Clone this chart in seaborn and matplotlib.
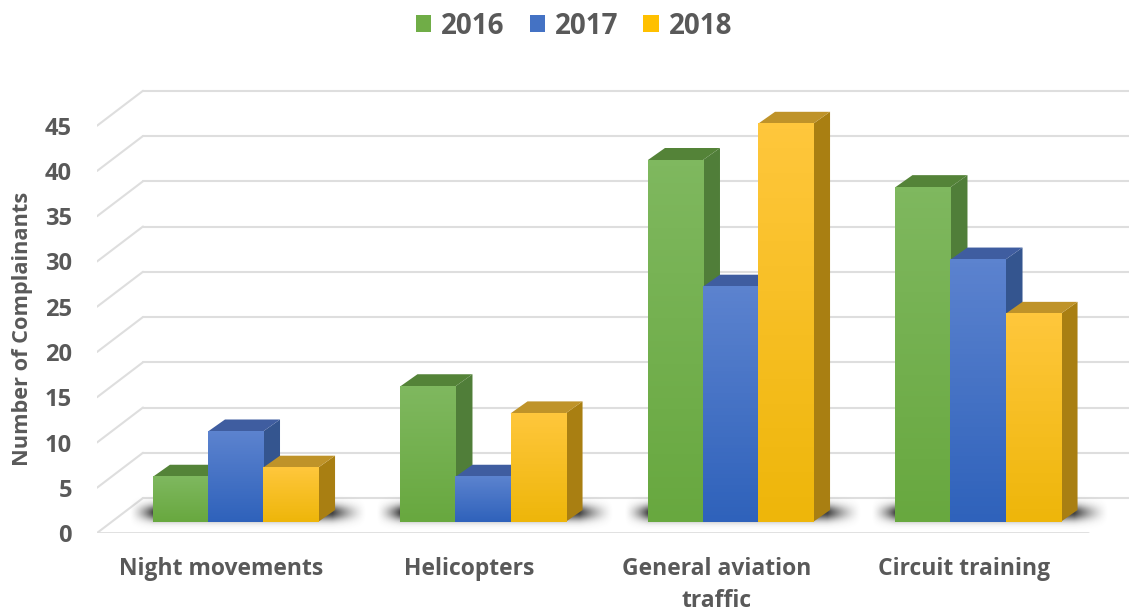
import numpy as np
import pandas as pd
import seaborn as sns
import matplotlib.pyplot as plt
from matplotlib.colors import LinearSegmentedColormap
from matplotlib.patches import Polygon
from matplotlib.transforms import ScaledTranslation

categories = ["Night movements", "Helicopters", "General aviation\ntraffic", "Circuit training"]
years = ["2016", "2017", "2018"]
values_2016 = [5, 15, 40, 37]
values_2017 = [10, 5, 26, 29]
values_2018 = [6, 12, 44, 23]
y_ticks = [0, 5, 10, 15, 20, 25, 30, 35, 40, 45]

legend_colors = ["#70ad47", "#4472c4", "#ffc000"]
top_colors = {"2016": ("#7fb85f", "#68a83f"), "2017": ("#5c83cf", "#2f62bb"), "2018": ("#ffc73c", "#eeb60a")}
side_colors = {"2016": "#507e39", "2017": "#34558f", "2018": "#a97f12"}
cap_colors = {"2016": "#548338", "2017": "#3f5da0", "2018": "#bf9329"}
text_color = "#595959"
grid_color = "#dedede"

sns.set_theme(style="white")
plt.rcParams["font.family"] = ["Open Sans", "DejaVu Sans"]
plt.rcParams["font.weight"] = "bold"

W, H = 1129, 613
PX_X = 247.5   # pixels per category
PX_Y = 9.05    # pixels per unit
fig = plt.figure(figsize=(W / 100, H / 100), dpi=100)
ax = fig.add_axes([97 / W, (H - 533) / H, (W - 97) / W, 473 / H])

df = pd.DataFrame({
    "category": categories * 3,
    "year": [y for y in years for _ in categories],
    "value": values_2016 + values_2017 + values_2018,
})
sns.barplot(data=df, x="category", y="value", hue="year", hue_order=years,
            palette=legend_colors, width=0.667, gap=0, saturation=1, errorbar=None,
            linewidth=0, zorder=3, ax=ax)

# fake 3d offsets, in data units
front_dy = -11 / PX_Y
rear_dx = 46 / PX_X
rear_dy = 24 / PX_Y
depth_dx = 17 / PX_X
depth_dy = 12 / PX_Y

xmin = (97 - 235.5) / PX_X
xmax = (W - 235.5) / PX_X
floor_right = (1088 - 235.5) / PX_X

# walls
for v in y_ticks:
    ax.plot([xmin + rear_dx, xmax], [v + rear_dy, v + rear_dy], color=grid_color, lw=1.5, zorder=1)
    ax.plot([xmin, xmin + rear_dx], [v + front_dy, v + rear_dy], color=grid_color, lw=1.5, zorder=1)
ax.plot([xmin, floor_right], [front_dy, front_dy], color=grid_color, lw=2, zorder=1)

bars = sorted([p for p in ax.patches if p.get_height() > 0], key=lambda p: p.get_x())
year_of = {}
for yr, vals in zip(years, [values_2016, values_2017, values_2018]):
    for i, v in enumerate(vals):
        year_of[(i, v)] = yr

# floor shadows under each group
for i in range(len(categories)):
    left = i - 0.667 / 2
    right = i + 0.667 / 2
    xs = np.linspace(left - 26 / PX_X, right + 50 / PX_X, 300)
    ys = np.linspace(-1.0, 3.0, 60)
    fade_l = np.clip((xs - (left - 24 / PX_X)) / (24 / PX_X), 0, 1) ** 1.5
    fade_r = np.clip(((right + 48 / PX_X) - xs) / (34 / PX_X), 0, 1) ** 1.5
    ay_profile = np.exp(-((ys - 1.0) / 0.85) ** 2)
    shade = np.zeros((60, 300, 4))
    shade[..., :3] = 0.22
    shade[..., 3] = np.outer(ay_profile, fade_l * fade_r) * 0.95
    ax.imshow(shade, extent=[xs[0], xs[-1], ys[0], ys[-1]], origin="lower", aspect="auto", zorder=2)

# extrude each bar, front gradient drawn on top
for n, bar in enumerate(bars):
    x0, w, h = bar.get_x(), bar.get_width(), bar.get_height()
    x1 = x0 + w
    cat = int(round(x0 + w / 2))
    yr = year_of[(cat, int(round(h)))]
    z = 4 + n * 0.01
    ax.add_patch(Polygon([(x1, 0), (x1 + depth_dx, depth_dy), (x1 + depth_dx, h + depth_dy), (x1, h)],
                         facecolor=side_colors[yr], edgecolor="none", zorder=z))
    ax.add_patch(Polygon([(x0, h), (x0 + depth_dx, h + depth_dy), (x1 + depth_dx, h + depth_dy), (x1, h)],
                         facecolor=cap_colors[yr], edgecolor="none", zorder=z))
    cmap = LinearSegmentedColormap.from_list(yr, top_colors[yr])
    ax.imshow(np.linspace(0, 1, 64)[:, None], cmap=cmap, extent=[x0, x1, 0, h], aspect="auto",
              origin="upper", zorder=z + 0.001)

ax.set_xlim(xmin, xmax)
ax.set_ylim(front_dy, (522 - 60) / PX_Y)
ax.set_xlabel("")
ax.set_ylabel("Number of Complainants", fontsize=15.7, color=text_color, fontweight="bold")
ax.yaxis.set_label_coords(-64 / (W - 97), 0.5 + (473 / 2 - (329 - 60)) / 473)
ax.set_yticks([v + front_dy for v in y_ticks])
ax.set_yticklabels([str(v) for v in y_ticks], fontsize=17, color=text_color, fontweight="bold")
ax.set_xticks(range(len(categories)))
ax.set_xticklabels(categories, fontsize=16.5, color=text_color, fontweight="bold", linespacing=1.45)
ax.tick_params(axis="y", length=0, pad=18)
ax.tick_params(axis="x", length=0, pad=17.5)
shift = ScaledTranslation(-14 / 100, 0, fig.dpi_scale_trans)
for label in ax.get_xticklabels():
    label.set_transform(label.get_transform() + shift)
sns.despine(ax=ax, left=True, bottom=True)

handles, labels = ax.get_legend_handles_labels()
ax.legend(handles, labels, loc="center", bbox_to_anchor=(574 / W, 1 - 26 / H), bbox_transform=fig.transFigure,
          ncol=3, frameon=False, handlelength=0.55, handleheight=0.55, handletextpad=0.36, columnspacing=0.9,
          prop={"size": 20, "weight": "bold"}, labelcolor=text_color)

fig.savefig("out.png", dpi=100)
